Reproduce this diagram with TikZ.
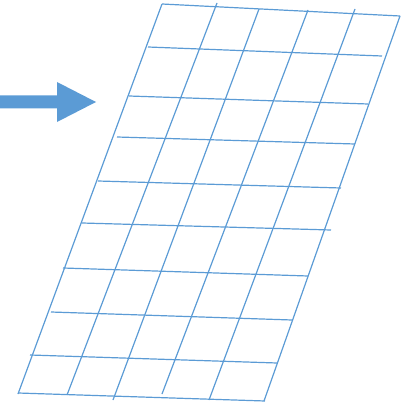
\documentclass[tikz,border=0pt]{standalone}
\definecolor{gridblue}{HTML}{5B9BD5}
\begin{document}
\begin{tikzpicture}[x=1pt,y=-1pt,
  gridline/.style={draw=gridblue,line width=1.2pt},
  bigarrow/.style={fill=gridblue,draw=none}]
\useasboundingbox (0,0) rectangle (410,404);
% arrow
\fill[bigarrow] (0,95.5) -- (57,95.5) -- (57,82) -- (96,102) -- (57,122) -- (57,108.5) -- (0,108.5) -- cycle;
% horizontal lines
\draw[gridline] (162,4) -- (400,16);
\draw[gridline] (148,47) -- (382,56);
\draw[gridline] (129,96) -- (368,104);
\draw[gridline] (117,137) -- (355,144);
\draw[gridline] (98,181) -- (341,188);
\draw[gridline] (82,223) -- (331,230);
\draw[gridline] (63,268) -- (308,276);
\draw[gridline] (51,312) -- (292,320);
\draw[gridline] (30,355) -- (277,363);
\draw[gridline] (18,393) -- (265,401);
% slanted lines
\draw[gridline] (162,4) -- (18,394);
\draw[gridline] (217,3) -- (67,395);
\draw[gridline] (259,9) -- (113,400);
\draw[gridline] (308,10) -- (162,394);
\draw[gridline] (355,9) -- (209,400);
\draw[gridline] (400,16) -- (264,401);
\end{tikzpicture}
\end{document}
